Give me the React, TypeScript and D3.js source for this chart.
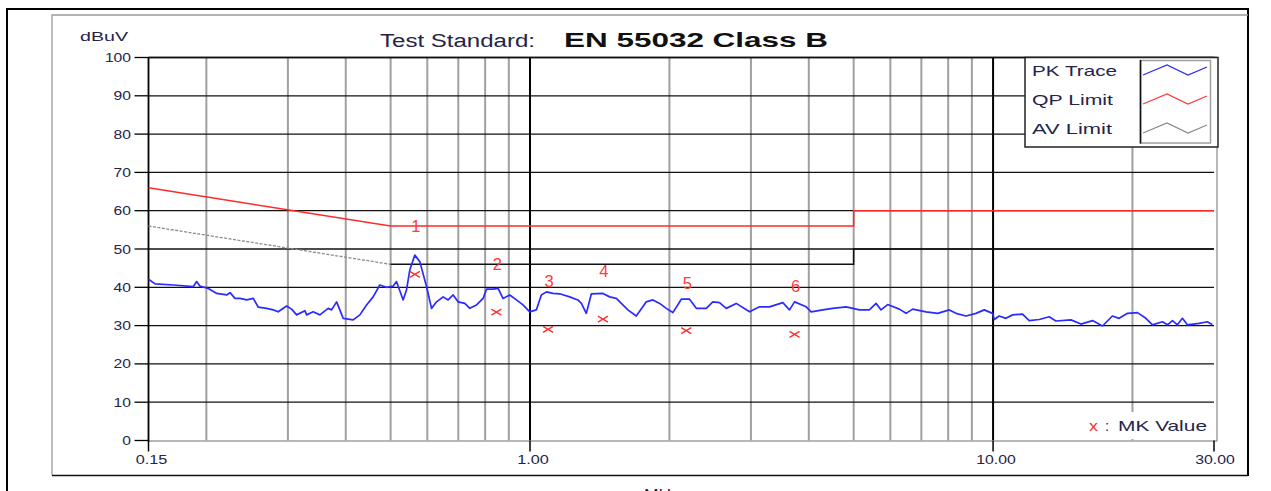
import React from "react";
import * as d3 from "d3";

// ---------- data ----------
const traceFreq = [
  0.15, 0.155, 0.17, 0.1875, 0.1906, 0.1938, 0.202, 0.2106, 0.2213, 0.225, 0.2306, 0.2364, 0.2444, 0.2526,
  0.2589, 0.2699, 0.2789, 0.2859, 0.2981, 0.3056, 0.3133, 0.3265, 0.3293, 0.3402, 0.3517, 0.3665, 0.3728,
  0.3822, 0.3885, 0.3949, 0.415, 0.4291, 0.4436, 0.4584, 0.4738, 0.4898, 0.5061, 0.5148, 0.5321, 0.5411,
  0.55, 0.5639, 0.5781, 0.5977, 0.6128, 0.6283, 0.6492, 0.6655, 0.6823, 0.6994, 0.7231, 0.7413, 0.7665,
  0.792, 0.8054, 0.8322, 0.8533, 0.8743, 0.9042, 0.9347, 0.9658, 0.9985, 1.032, 1.058, 1.085, 1.121, 1.159,
  1.218, 1.269, 1.291, 1.323, 1.357, 1.437, 1.486, 1.536, 1.627, 1.696, 1.783, 1.842, 1.905, 1.969, 2.035,
  2.122, 2.211, 2.286, 2.402, 2.482, 2.566, 2.653, 2.788, 2.979, 3.13, 3.29, 3.515, 3.634, 3.726, 3.948,
  4.047, 4.287, 4.505, 4.815, 5.145, 5.406, 5.589, 5.73, 5.921, 6.275, 6.488, 6.704, 7.166, 7.591, 8.044,
  8.318, 8.741, 9.186, 9.572, 9.975, 10.06, 10.31, 10.66, 11.02, 11.58, 11.97, 12.58, 13.22, 13.67, 14.73,
  15.48, 16.4, 17.23, 18.1, 18.72, 19.51, 20.5, 21.38, 22.09, 23.21, 23.8, 24.4, 25.01, 25.64, 26.28,
  27.86, 29.03, 29.76,
];
const traceLevel = [
  42.1, 40.9, 40.6, 40.2, 41.5, 40.3, 39.7, 38.4, 38.0, 38.6, 37.1, 37.1, 36.7, 37.1,
  34.8, 34.5, 34.1, 33.6, 35.1, 34.3, 32.8, 33.9, 32.8, 33.6, 32.8, 34.5, 34.1,
  36.2, 34.1, 31.9, 31.5, 32.8, 35.4, 37.5, 40.6, 40.0, 40.3, 41.5, 36.7, 39.3,
  44.5, 48.4, 46.7, 40.2, 34.5, 36.2, 37.5, 36.7, 38.0, 36.2, 35.8, 34.5, 35.4,
  37.1, 39.5, 39.5, 39.7, 37.1, 38.0, 36.7, 35.4, 33.6, 34.1, 38.0, 38.8, 38.4, 38.3,
  37.5, 36.7, 35.8, 33.2, 38.3, 38.4, 37.5, 37.1, 34.1, 32.5, 36.2, 36.7, 35.8, 34.5, 33.4,
  36.9, 36.9, 34.5, 34.5, 36.2, 36.0, 34.5, 35.8, 33.6, 34.9, 34.9, 36.0, 34.1, 36.2, 34.9,
  33.6, 34.1, 34.5, 34.9, 34.1, 34.1, 35.8, 34.1, 35.5, 34.3, 33.2, 34.3, 33.6, 33.2, 34.1,
  33.2, 32.5, 33.2, 34.1, 33.2, 31.6, 32.5, 31.9, 32.8, 33.0, 31.3, 31.6, 32.3, 31.2, 31.5,
  30.4, 31.3, 29.9, 32.5, 31.9, 33.2, 33.4, 31.9, 30.2, 31.0, 30.2, 31.3, 30.2, 31.9, 30.2,
  30.6, 31.0, 30.2,
];

const qpFreq = [0.15, 0.5, 5, 5, 30];
const qpLevel = [66, 56, 56, 60, 60];
const avSlopeFreq = [0.15, 0.5];
const avSlopeLevel = [56, 46];
const avFlatFreq = [0.5, 5, 5, 30];
const avFlatLevel = [46, 46, 50, 50];

const mkFreq = [0.564, 0.846, 1.094, 1.437, 2.175, 3.726];
const mkLevel = [43.4, 33.5, 29.0, 31.7, 28.7, 27.7];
const mkNames = ["1", "2", "3", "4", "5", "6"];

const yTicks = [0, 10, 20, 30, 40, 50, 60, 70, 80, 90, 100];
const minorGridFreq = [0.2, 0.3, 0.4, 0.5, 0.6, 0.7, 0.8, 0.9, 2, 3, 4, 5, 6, 7, 8, 9, 20];
const majorGridFreq = [1, 10];
const xTickFreq = [0.15, 1, 10, 30];
const xTickLabels = ["0.15", "1.00", "10.00", "30.00"];

const legendNames = ["PK Trace", "QP Limit", "AV Limit"];
const legendColors = ["#2b2bff", "#ff3b3b", "#8a8a8a"];

// ---------- layout ----------
const W = 1271;
const H = 491;
const L = 148.5, R = 1214, T = 57.5, B = 440.5;
const FONT = "'Liberation Sans', Arial, Helvetica, sans-serif";
const TXT = "#24244a";

export default function App() {
  const x = d3.scaleLog().domain([0.15, 30]).range([L, R]);
  const y = d3.scaleLinear().domain([0, 100]).range([B, T]);
  const line = d3.line<[number, number]>().x((d) => x(d[0])).y((d) => y(d[1]));

  const trace = line(traceFreq.map((f, i) => [f, traceLevel[i]]))!;
  const qp = line(qpFreq.map((f, i) => [f, qpLevel[i]]))!;
  const avSlope = line(avSlopeFreq.map((f, i) => [f, avSlopeLevel[i]]))!;
  const avFlat = line(avFlatFreq.map((f, i) => [f, avFlatLevel[i]]))!;

  const legX = 1025, legY = 57.5, legW = 193, legH = 89.5;
  const zig = (cy: number) => `M1143,${cy + 5} L1167,${cy - 5} L1188,${cy + 5} L1207,${cy - 3}`;

  return (
    <svg width={W} height={H} style={{ position: "absolute", left: 0, top: 0, background: "#fff" }}
      fontFamily={FONT}>
      <rect x={0} y={0} width={W} height={H} fill="#fff" />
      {/* outer frames */}
      <path d={`M7,491 L7,9 L1248,9 L1248,476`} fill="none" stroke="#000" strokeWidth={2} />
      <path d={`M52,475 L52,15 L1248,15`} fill="none" stroke="#9a9a9a" strokeWidth={1.3} />
      <line x1={52} x2={1248} y1={475.5} y2={475.5} stroke="#111" strokeWidth={1.5} />

      {/* title */}
      <text x={380} y={47} fontSize={18} fill={TXT} textLength={155} lengthAdjust="spacingAndGlyphs">Test Standard:</text>
      <text x={564} y={47} fontSize={21} fontWeight="bold" fill="#111" textLength={264} lengthAdjust="spacingAndGlyphs">EN 55032 Class B</text>
      <text x={80} y={41} fontSize={13} fill={TXT} textLength={48} lengthAdjust="spacingAndGlyphs">dBuV</text>

      {/* minor vertical grid */}
      {minorGridFreq.map((f) => (
        <line key={"vg" + f} x1={x(f)} x2={x(f)} y1={T} y2={B} stroke="#a0a0a0" strokeWidth={2} />
      ))}
      {/* horizontal grid */}
      {yTicks.filter((v) => v > 0).map((v) => (
        <line key={"hg" + v} x1={L} x2={R} y1={y(v)} y2={y(v)} stroke="#111" strokeWidth={1.3} />
      ))}
      {/* major vertical */}
      {majorGridFreq.map((f) => (
        <line key={"mg" + f} x1={x(f)} x2={x(f)} y1={T} y2={B} stroke="#000" strokeWidth={2} />
      ))}
      {/* plot frame */}
      <line x1={L} x2={R + 3} y1={B + 0.5} y2={B + 0.5} stroke="#a0a0a0" strokeWidth={1.5} />
      <line x1={R + 3} x2={R + 3} y1={T} y2={B + 1} stroke="#a0a0a0" strokeWidth={1.5} />
      <line x1={L} x2={L} y1={T} y2={B + 1} stroke="#000" strokeWidth={1.8} />
      <line x1={L} x2={R + 3} y1={T} y2={T} stroke="#111" strokeWidth={1.5} />

      {/* y ticks */}
      {yTicks.map((v) => (
        <g key={"yt" + v}>
          <line x1={L - 14} x2={L} y1={y(v)} y2={y(v)} stroke="#000" strokeWidth={1.3} />
          <text x={131} y={y(v) + 4.5} fontSize={12.5} fill={TXT} textAnchor="end"
            textLength={String(v).length * 8.7} lengthAdjust="spacingAndGlyphs">{v}</text>
        </g>
      ))}
      {/* x ticks */}
      {xTickFreq.map((f, i) => (
        <g key={"xt" + f}>
          <line x1={x(f)} x2={x(f)} y1={B} y2={B + 11} stroke="#000" strokeWidth={1.5} />
          <text x={x(f) + (i === 3 ? 1 : 3)} y={464} fontSize={12.5} fill={TXT} textAnchor="middle"
            textLength={xTickLabels[i].length * 7.9} lengthAdjust="spacingAndGlyphs">{xTickLabels[i]}</text>
        </g>
      ))}
      <text x={662} y={499} fontSize={15} fill={TXT} textAnchor="middle" textLength={36} lengthAdjust="spacingAndGlyphs">MHz</text>

      {/* limits */}
      <path d={avSlope} fill="none" stroke="#8c8c8c" strokeWidth={1.3} strokeDasharray="3 1.5" />
      <path d={avFlat} fill="none" stroke="#111" strokeWidth={1.5} />
      <path d={qp} fill="none" stroke="#ff2a2a" strokeWidth={1.5} />

      {/* trace */}
      <path d={trace} fill="none" stroke="#2b2bff" strokeWidth={1.7} strokeLinejoin="round" />

      {/* markers */}
      {mkFreq.map((f, i) => {
        const cx = x(f), cy = y(mkLevel[i]);
        return (
          <g key={"mk" + i}>
            <path d={`M${cx - 5},${cy - 3} L${cx + 5},${cy + 3} M${cx - 5},${cy + 3} L${cx + 5},${cy - 3}`}
              stroke="#ff3030" strokeWidth={1.4} fill="none" />
            <text x={cx + 1} y={cy - 42} fontSize={16.5} fill="#ff3a3a" textAnchor="middle">{mkNames[i]}</text>
          </g>
        );
      })}

      {/* legend */}
      <rect x={legX} y={legY} width={legW} height={legH} fill="#fff" stroke="#222" strokeWidth={1.5} />
      <rect x={1140.5} y={60.5} width={70} height={82.5} fill="#fff" stroke="#a0a0a0" strokeWidth={1.5} />
      <line x1={1140.5} x2={1140.5} y1={60} y2={143.5} stroke="#111" strokeWidth={1.6} />
      {legendNames.map((n, i) => (
        <g key={"lg" + n}>
          <text x={1032} y={76 + i * 29} fontSize={15} fill={TXT}
            textLength={[85, 81, 80][i]} lengthAdjust="spacingAndGlyphs">{n}</text>
          <path d={zig(70 + i * 29)} fill="none" stroke={legendColors[i]} strokeWidth={1.3} />
        </g>
      ))}

      {/* MK value label */}
      <rect x={1085} y={412} width={127} height={27} fill="#fff" />
      <text x={1089} y={431} fontSize={15} fill="#ff3030" textLength={9} lengthAdjust="spacingAndGlyphs">x</text>
      <text x={1105} y={431} fontSize={15} fill={TXT}>:</text>
      <text x={1118} y={431} fontSize={15} fill={TXT} textLength={89} lengthAdjust="spacingAndGlyphs">MK Value</text>
    </svg>
  );
}
